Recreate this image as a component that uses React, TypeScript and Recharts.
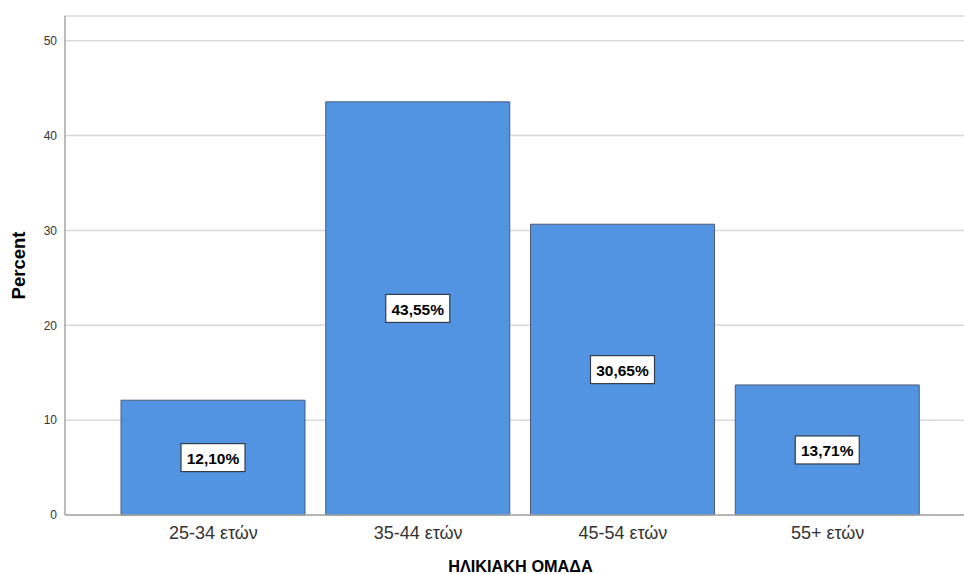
import React from 'react';
import { BarChart, Bar, XAxis, YAxis, CartesianGrid, LabelList } from 'recharts';

// Age groups and their share of respondents (%)
const ageGroups = ['25-34 ετών', '35-44 ετών', '45-54 ετών', '55+ ετών'];
const percentValues = [12.1, 43.55, 30.65, 13.71];
const yTicks = [0, 10, 20, 30, 40, 50];

const data = ageGroups.map((group, i) => ({ group, percent: percentValues[i] }));

const formatPct = (v: number) => v.toFixed(2).replace('.', ',') + '%';

const FONT = "'Liberation Sans', Arial, sans-serif";

// white boxed value label sitting in the middle of each bar
const BoxLabel = (props: any) => {
  const { x, y, width, height, value } = props;
  const cx = x + width / 2;
  const cy = y + height / 2;
  const boxW = 64;
  const boxH = 28;
  return (
    <g>
      <rect x={cx - boxW / 2} y={cy - boxH / 2} width={boxW} height={boxH} fill="#ffffff" stroke="#333d4a" strokeWidth={1.2} />
      <text x={cx} y={cy + 1} textAnchor="middle" dominantBaseline="central" fontFamily={FONT} fontWeight="bold" fontSize={15.5} fill="#000">
        {formatPct(value)}
      </text>
    </g>
  );
};

const App: React.FC = () => {
  return (
    <div style={{ position: 'absolute', left: 0, top: 0, background: '#fff' }}>
      <BarChart width={964} height={574} data={data} margin={{ top: 16, right: 0, left: 0, bottom: 0 }}>
        <CartesianGrid vertical={false} stroke="#d9d9d9" strokeWidth={1.5} />
        <XAxis
          dataKey="group"
          height={59}
          tickLine={false}
          axisLine={{ stroke: '#a6a6a6', strokeWidth: 1.5 }}
          padding={{ left: 46, right: 34 }}
          tick={{ fill: '#333', fontSize: 18, fontFamily: FONT }}
          tickMargin={5}
          label={{ value: 'ΗΛΙΚΙΑΚΗ ΟΜΑΔΑ', position: 'insideBottom', offset: 2, dx: 6, fill: '#000', fontWeight: 'bold', fontSize: 16.3, fontFamily: FONT }}
        />
        <YAxis
          width={65}
          domain={[0, 52.6]}
          ticks={yTicks}
          tickLine={false}
          axisLine={{ stroke: '#a6a6a6', strokeWidth: 1.5 }}
          tick={{ fill: '#333', fontSize: 12, fontFamily: FONT }}
          label={{ value: 'Percent', angle: -90, position: 'insideLeft', offset: 18, textAnchor: 'middle', fill: '#000', fontWeight: 'bold', fontSize: 18.5, fontFamily: FONT }}
        />
        <Bar dataKey="percent" fill="#5294e2" stroke="#4a5c78" strokeWidth={1} barSize={184} isAnimationActive={false}>
          <LabelList dataKey="percent" content={<BoxLabel />} />
        </Bar>
      </BarChart>
    </div>
  );
};

export default App;
